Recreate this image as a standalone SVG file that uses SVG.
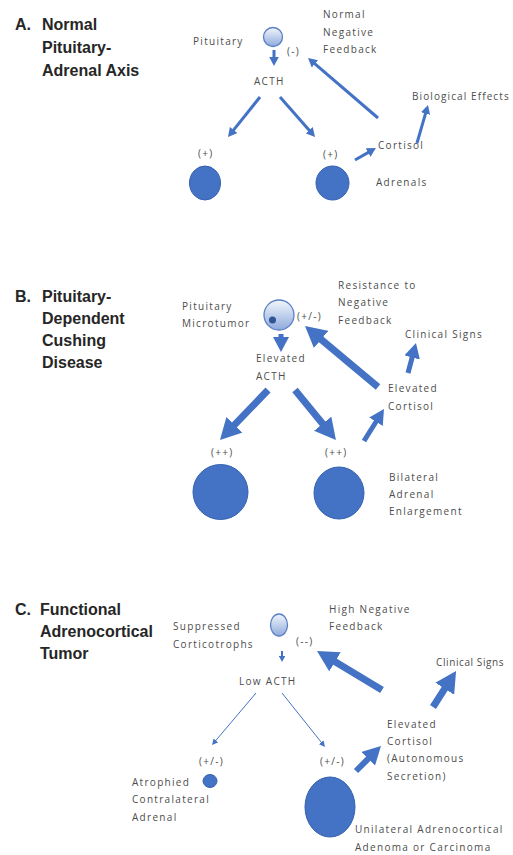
<svg xmlns="http://www.w3.org/2000/svg" width="513" height="855" viewBox="0 0 513 855">
<defs>
<linearGradient id="pg" x1="0" y1="0" x2="0" y2="1">
<stop offset="0" stop-color="#f2f6fc"/>
<stop offset="1" stop-color="#8eaadc"/>
</linearGradient>
<marker id="ah" viewBox="0 0 10 10" refX="2" refY="5" markerWidth="3" markerHeight="3.2" preserveAspectRatio="none" orient="auto">
<path d="M0,0 L10,5 L0,10 z" fill="#4472c4"/>
</marker>
<marker id="ahs" viewBox="0 0 10 10" refX="2" refY="5" markerWidth="6" markerHeight="6" preserveAspectRatio="none" orient="auto">
<path d="M0,0 L10,5 L0,10 z" fill="#4472c4"/>
</marker>
</defs>
<style>
.lbl{font-family:"Open Sans","Liberation Sans",sans-serif;font-size:10px;letter-spacing:1.3px;fill:#4d4d4d}
.ttl{font-family:"Liberation Sans",Arial,sans-serif;font-weight:bold;font-size:16px;fill:#262626}
.adr{fill:#4472c4;stroke:#3561b0;stroke-width:1}
.pit{fill:url(#pg);stroke:#5b7fc4;stroke-width:1.3}
.ar{stroke:#4472c4;fill:none;marker-end:url(#ah)}
.ars{stroke:#4472c4;fill:none;stroke-width:1;marker-end:url(#ahs)}
</style>
<rect width="513" height="855" fill="#ffffff"/>

<!-- Panel A -->
<g id="a-title">
<text class="ttl" x="15" y="30">A.</text>
<text class="ttl" x="42" y="30">Normal</text>
<text class="ttl" x="42" y="53">Pituitary-</text>
<text class="ttl" x="42" y="76">Adrenal Axis</text>
</g>
<g id="a-pituitary">
<circle class="pit" cx="273" cy="37" r="9.5"/>
<text class="lbl" x="193" y="45">Pituitary</text>
<text class="lbl" x="287" y="55">(-)</text>
</g>
<g id="a-feedback-label">
<text class="lbl" x="323" y="18">Normal</text>
<text class="lbl" x="323" y="35.5">Negative</text>
<text class="lbl" x="323" y="53">Feedback</text>
</g>
<g id="a-acth"><text class="lbl" x="254" y="85">ACTH</text></g>
<g id="a-bio"><text class="lbl" x="412" y="100" style="letter-spacing:1.1px">Biological Effects</text></g>
<g id="a-cortisol"><text class="lbl" x="378" y="149">Cortisol</text></g>
<g id="a-adrenal-left">
<text class="lbl" x="198" y="157">(+)</text>
<ellipse class="adr" cx="205" cy="183" rx="15.5" ry="17"/>
</g>
<g id="a-adrenal-right">
<text class="lbl" x="323" y="158">(+)</text>
<ellipse class="adr" cx="332.5" cy="183" rx="16.5" ry="17"/>
<text class="lbl" x="376" y="186">Adrenals</text>
</g>

<!-- Panel B -->
<g id="b-title">
<text class="ttl" x="15" y="302">B.</text>
<text class="ttl" x="42" y="302">Pituitary-</text>
<text class="ttl" x="42" y="324">Dependent</text>
<text class="ttl" x="42" y="346">Cushing</text>
<text class="ttl" x="42" y="368">Disease</text>
</g>
<g id="b-pituitary">
<circle class="pit" cx="279" cy="315" r="15"/>
<circle cx="272.5" cy="320" r="3.5" fill="#2f5597"/>
<text class="lbl" x="182" y="310">Pituitary</text>
<text class="lbl" x="182" y="327">Microtumor</text>
<text class="lbl" x="297" y="320">(+/-)</text>
</g>
<g id="b-feedback-label">
<text class="lbl" x="338" y="289">Resistance to</text>
<text class="lbl" x="338" y="306">Negative</text>
<text class="lbl" x="338" y="324">Feedback</text>
</g>
<g id="b-acth">
<text class="lbl" x="256" y="362">Elevated</text>
<text class="lbl" x="256" y="380">ACTH</text>
</g>
<g id="b-signs"><text class="lbl" x="405" y="338">Clinical Signs</text></g>
<g id="b-cortisol">
<text class="lbl" x="388" y="392">Elevated</text>
<text class="lbl" x="388" y="410">Cortisol</text>
</g>
<g id="b-adrenal-left">
<text class="lbl" x="211" y="456">(++)</text>
<circle class="adr" cx="220.5" cy="492" r="27.5"/>
</g>
<g id="b-adrenal-right">
<text class="lbl" x="325" y="456">(++)</text>
<ellipse class="adr" cx="339" cy="493" rx="25" ry="26"/>
<text class="lbl" x="389" y="481">Bilateral</text>
<text class="lbl" x="389" y="498">Adrenal</text>
<text class="lbl" x="389" y="515">Enlargement</text>
</g>

<!-- Panel C -->
<g id="c-title">
<text class="ttl" x="15" y="615">C.</text>
<text class="ttl" x="40" y="615">Functional</text>
<text class="ttl" x="40" y="637">Adrenocortical</text>
<text class="ttl" x="40" y="659">Tumor</text>
</g>
<g id="c-pituitary">
<ellipse class="pit" cx="279" cy="625" rx="8.5" ry="11"/>
<text class="lbl" x="173" y="630">Suppressed</text>
<text class="lbl" x="173" y="648">Corticotrophs</text>
<text class="lbl" x="296" y="645">(--)</text>
</g>
<g id="c-feedback-label">
<text class="lbl" x="329" y="613">High Negative</text>
<text class="lbl" x="329" y="630">Feedback</text>
</g>
<g id="c-acth"><text class="lbl" x="239" y="685">Low ACTH</text></g>
<g id="c-signs"><text class="lbl" x="436" y="666" style="letter-spacing:0.6px">Clinical Signs</text></g>
<g id="c-cortisol">
<text class="lbl" x="387" y="728">Elevated</text>
<text class="lbl" x="387" y="745">Cortisol</text>
<text class="lbl" x="387" y="762">(Autonomous</text>
<text class="lbl" x="387" y="780">Secretion)</text>
</g>
<g id="c-adrenal-left">
<text class="lbl" x="199" y="765">(+/-)</text>
<ellipse class="adr" cx="210" cy="781" rx="7" ry="6.5"/>
<text class="lbl" x="132" y="786">Atrophied</text>
<text class="lbl" x="132" y="803">Contralateral</text>
<text class="lbl" x="132" y="821">Adrenal</text>
</g>
<g id="c-adrenal-tumor">
<text class="lbl" x="320" y="765">(+/-)</text>
<ellipse class="adr" cx="330" cy="807" rx="25" ry="30"/>
<text class="lbl" x="355" y="833">Unilateral Adrenocortical</text>
<text class="lbl" x="355" y="851">Adenoma or Carcinoma</text>
</g>

<!-- Connectors -->
<g id="connectors">
<!-- A -->
<line class="ar" stroke-width="3" x1="274" y1="50" x2="274" y2="58.8"/>
<line class="ar" stroke-width="3" x1="260" y1="97" x2="232.5" y2="131.4"/>
<line class="ar" stroke-width="3" x1="280" y1="97" x2="310.3" y2="131.6"/>
<line class="ar" stroke-width="3" x1="378" y1="118" x2="313.5" y2="62.7"/>
<line class="ar" stroke-width="3" x1="417" y1="143" x2="426" y2="111.9"/>
<line class="ar" stroke-width="3" x1="355" y1="160" x2="369.7" y2="151.6"/>
<!-- B -->
<line class="ar" stroke-width="5" x1="281" y1="334" x2="281" y2="340"/>
<line class="ar" stroke-width="7" x1="268" y1="390" x2="231.6" y2="427.9"/>
<line class="ar" stroke-width="7" x1="295" y1="390" x2="325.3" y2="427"/>
<line class="ar" stroke-width="7" x1="378" y1="387" x2="317.9" y2="336.8"/>
<line class="ar" stroke-width="5" x1="408" y1="373" x2="412.9" y2="354.6"/>
<line class="ar" stroke-width="5" x1="364" y1="441" x2="377.6" y2="419.2"/>
<!-- C -->
<line class="ar" stroke-width="2" x1="282" y1="651" x2="282" y2="657.2"/>
<line class="ars" x1="256" y1="693" x2="215.1" y2="741.3"/>
<line class="ars" x1="282" y1="693" x2="322" y2="743.2"/>
<line class="ar" stroke-width="7" x1="382" y1="690" x2="331.4" y2="659.6"/>
<line class="ar" stroke-width="7" x1="433" y1="707" x2="447" y2="685.2"/>
<line class="ar" stroke-width="6" x1="356" y1="771" x2="370.8" y2="756.2"/>
</g>
</svg>
